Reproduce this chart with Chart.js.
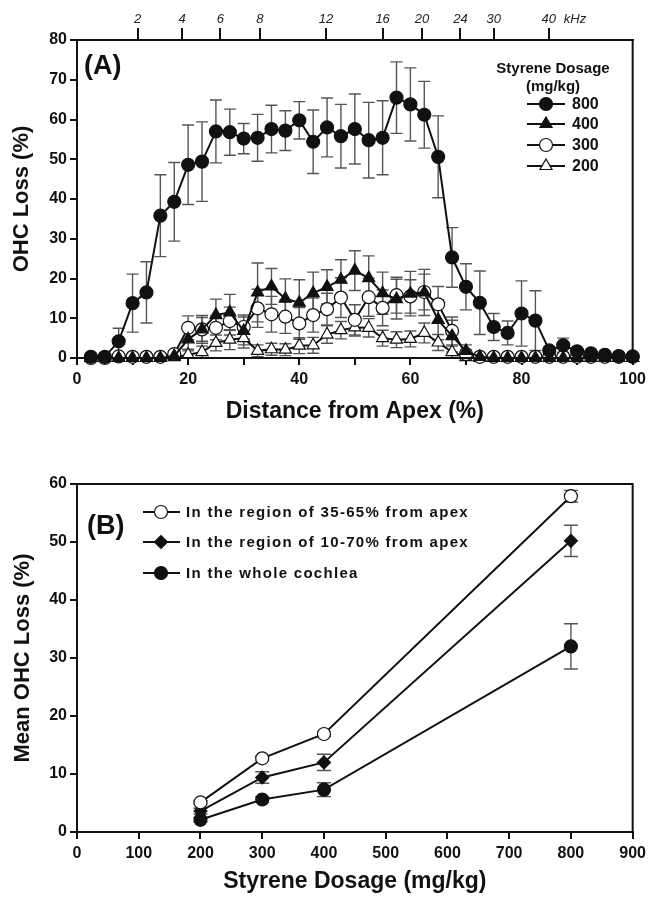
<!DOCTYPE html>
<html>
<head>
<meta charset="utf-8">
<script src="https://cdn.jsdelivr.net/npm/chart.js@4.4.0/dist/chart.umd.min.js"></script>
<style>
  body { margin: 0; background: #fff; }
  #wrap { position: relative; width: 651px; height: 898px; }
  canvas { position: absolute; left: 0; }
</style>
</head>
<body>
<div id="wrap">
  <canvas id="chartA" width="651" height="440" style="top:0"></canvas>
  <canvas id="chartB" width="651" height="458" style="top:440px"></canvas>
</div>
<script>
// ---- panel A data ----
const distance = [2.5, 5, 7.5, 10, 12.5, 15, 17.5, 20, 22.5, 25, 27.5, 30, 32.5, 35, 37.5, 40, 42.5, 45, 47.5, 50,
                  52.5, 55, 57.5, 60, 62.5, 65, 67.5, 70, 72.5, 75, 77.5, 80, 82.5, 85, 87.5, 90, 92.5, 95, 97.5, 100];
const loss800 = [0.3, 0.3, 4.2, 13.8, 16.5, 35.8, 39.3, 48.6, 49.4, 57.0, 56.8, 55.2, 55.4, 57.6, 57.2, 59.8, 54.4, 58.0, 55.8, 57.6,
                 54.8, 55.4, 65.5, 63.8, 61.2, 50.6, 25.3, 17.9, 13.9, 7.8, 6.3, 11.2, 9.4, 1.9, 3.2, 1.7, 1.2, 0.8, 0.5, 0.4];
const err800  = [0, 0, 3.3, 7.3, 7.7, 10.3, 9.9, 10, 10, 7.9, 5.8, 3.8, 5.9, 6, 5, 4.7, 8, 7.4, 8, 8.8,
                 9.5, 9.3, 9, 9.2, 8.4, 10.3, 7.5, 5.8, 8, 3.4, 3, 8.2, 7.5, 0.8, 1.8, 0.8, 0.5, 0.3, 0, 0];
const loss400 = [0, 0, 0, 0, 0, 0, 0.5, 4.7, 7.2, 10.8, 11.5, 6.8, 16.5, 18.0, 14.9, 13.9, 16.3, 17.9, 19.7, 22.0,
                 20.1, 16.3, 14.8, 16.2, 16.5, 9.6, 5.5, 1.8, 0.3, 0, 0, 0, 0, 0, 0, 0, 0, 0, 0, 0];
const err400  = [0, 0, 0, 0, 0, 0, 0.5, 2.5, 3.5, 4, 4.5, 3.5, 7.4, 4.5, 5, 5.8, 5.3, 4.3, 5, 5,
                 5.6, 5.3, 5, 5.6, 5.8, 5, 4, 1.5, 0.5, 0, 0, 0, 0, 0, 0, 0, 0, 0, 0, 0];
const loss300 = [0, 0, 0.4, 0.3, 0.3, 0.3, 1.0, 7.6, 7.2, 7.6, 9.3, 7.8, 12.5, 11.0, 10.4, 8.7, 10.8, 12.3, 15.2, 9.6,
                 15.3, 12.6, 15.8, 15.5, 16.6, 13.5, 6.8, 1.0, 0.3, 0.3, 0.3, 0.3, 0.3, 0.3, 0.3, 0.3, 0.3, 0.3, 0.3, 0.3];
const err300  = [0, 0, 0.3, 0.2, 0.2, 0.3, 0.8, 3, 3, 3, 3.5, 3, 4.8, 4.5, 4.2, 4, 4.3, 4, 5, 3.8,
                 4.8, 4.5, 4.5, 4.2, 4.5, 4.5, 3.5, 1, 0.3, 0, 0, 0, 0, 0, 0, 0, 0, 0, 0, 0];
const loss200 = [0, 0, 0, 0, 0, 0, 0.2, 0.8, 1.5, 3.8, 4.6, 5.0, 1.8, 2.2, 2.1, 3.1, 3.2, 5.9, 7.0, 7.7,
                 7.6, 5.0, 4.6, 4.8, 6.3, 3.9, 1.5, 0.2, 0, 0, 0, 0, 0, 0, 0, 0, 0, 0, 0, 0];
const err200  = [0, 0, 0, 0, 0, 0, 0.3, 1, 1.5, 2, 2.5, 2.5, 1.5, 1.5, 1.5, 2, 2, 2.2, 2.2, 2.2,
                 2.3, 2, 2, 2, 2.5, 2, 1.5, 0.3, 0, 0, 0, 0, 0, 0, 0, 0, 0, 0, 0, 0];
// frequency place map on the top axis
const kHzPos    = [10.9, 18.9, 25.8, 32.9, 44.8, 55.0, 62.1, 69.0, 75.0, 84.9];
const kHzLabels = ['2', '4', '6', '8', '12', '16', '20', '24', '30', '40'];

// ---- panel B data ----
const dosage     = [200, 300, 400, 800];
const mean35to65 = [5.1, 12.7, 16.9, 57.9];
const sem35to65  = [0.3, 0.4, 0.4, 1.0];
const mean10to70 = [3.6, 9.4, 12.0, 50.2];
const sem10to70  = [0.5, 1.0, 1.4, 2.7];
const meanWhole  = [2.1, 5.6, 7.3, 32.0];
const semWhole   = [0.4, 0.5, 1.2, 3.9];

const FONT = '"Liberation Sans", Arial, Helvetica, sans-serif';
const INK = '#111';

function pts(xs, ys) { return xs.map((x, i) => ({ x: x, y: ys[i] })); }

function drawMarker(ctx, style, r, fill, x, y) {
  ctx.save();
  ctx.fillStyle = fill;
  ctx.strokeStyle = INK;
  ctx.lineWidth = 1.2;
  if (Chart.helpers && Chart.helpers.drawPoint) {
    Chart.helpers.drawPoint(ctx, { pointStyle: style, radius: r, rotation: 0, borderWidth: 1.2 }, x, y);
  } else {
    ctx.beginPath(); ctx.arc(x, y, r, 0, Math.PI * 2); ctx.fill(); ctx.stroke();
  }
  ctx.restore();
}

// error bars drawn under the lines and markers
const errorBars = {
  id: 'errorBars',
  beforeDatasetsDraw(chart) {
    const ctx = chart.ctx;
    chart.data.datasets.forEach((ds, i) => {
      if (!ds.errors) return;
      const meta = chart.getDatasetMeta(i);
      const ys = chart.scales[meta.yAxisID];
      ctx.save();
      ctx.strokeStyle = '#555';
      ctx.lineWidth = 1.4;
      meta.data.forEach((pt, j) => {
        const e = ds.errors[j];
        if (!e) return;
        const v = ds.data[j].y;
        const top = ys.getPixelForValue(v + e);
        const bot = ys.getPixelForValue(Math.max(v - e, 0));
        const cw = ds.capWidth || 6;
        ctx.beginPath();
        ctx.moveTo(pt.x, top); ctx.lineTo(pt.x, bot);
        ctx.moveTo(pt.x - cw, top); ctx.lineTo(pt.x + cw, top);
        ctx.moveTo(pt.x - cw, bot); ctx.lineTo(pt.x + cw, bot);
        ctx.stroke();
      });
      ctx.restore();
    });
  }
};

// closed frame around the plot
const frame = {
  id: 'frame',
  afterDatasetsDraw(chart) {
    const a = chart.chartArea, ctx = chart.ctx;
    ctx.save();
    ctx.strokeStyle = INK;
    ctx.lineWidth = 2;
    ctx.strokeRect(a.left, a.top, a.right - a.left, a.bottom - a.top);
    ctx.restore();
  }
};

function lineSet(label, data, errs, style, r, fill) {
  return {
    label: label, data: data, errors: errs,
    borderColor: INK, borderWidth: 2,
    pointStyle: style, pointRadius: r, pointBackgroundColor: fill,
    pointBorderColor: INK, pointBorderWidth: 1.2,
    tension: 0, clip: false
  };
}

// ---- panel A ----
const legendA = {
  id: 'legendA',
  afterDraw(chart) {
    const a = chart.chartArea, ctx = chart.ctx;
    ctx.save();
    ctx.fillStyle = INK;
    ctx.font = 'bold 27px ' + FONT;
    ctx.textBaseline = 'middle';
    ctx.fillText('(A)', a.left + 7, a.top + 27);

    ctx.font = 'bold 15px ' + FONT;
    ctx.textAlign = 'center';
    ctx.fillText('Styrene Dosage', 553, 69);
    ctx.fillText('(mg/kg)', 553, 87);

    ctx.textAlign = 'left';
    ctx.font = 'bold 16px ' + FONT;
    const rows = [104, 124, 145, 166];
    chart.data.datasets.forEach((ds, i) => {
      const y = rows[i];
      ctx.strokeStyle = INK; ctx.lineWidth = 2;
      ctx.beginPath(); ctx.moveTo(527, y); ctx.lineTo(565, y); ctx.stroke();
      drawMarker(ctx, ds.pointStyle, ds.pointRadius, ds.pointBackgroundColor, 546, y);
      ctx.fillStyle = INK;
      ctx.fillText(ds.label, 572, y + 1);
    });

    // unit after the last frequency label
    const x2 = chart.scales.x2;
    ctx.font = 'italic 13px ' + FONT;
    ctx.fillStyle = '#222';
    ctx.textBaseline = 'alphabetic';
    ctx.fillText('kHz', x2.getPixelForValue(kHzPos[kHzPos.length - 1]) + 15, 23);
    ctx.restore();
  }
};

new Chart(document.getElementById('chartA'), {
  type: 'line',
  data: {
    datasets: [
      lineSet('800', pts(distance, loss800), err800, 'circle', 6.5, INK),
      lineSet('400', pts(distance, loss400), err400, 'triangle', 7, INK),
      lineSet('300', pts(distance, loss300), err300, 'circle', 6.5, '#fff'),
      lineSet('200', pts(distance, loss200), err200, 'triangle', 7, '#fff')
    ]
  },
  options: {
    responsive: false,
    animation: false,
    devicePixelRatio: 1,
    layout: { padding: { left: 0, right: 12, top: 0, bottom: 10 } },
    plugins: { legend: { display: false }, tooltip: { enabled: false } },
    scales: {
      x: {
        type: 'linear', position: 'bottom', min: 0, max: 100,
        afterFit: s => { s.height = 72; },
        ticks: {
          stepSize: 10, color: INK, padding: 5, maxRotation: 0,
          font: { family: FONT, size: 16, weight: 'bold' },
          callback: v => (v % 20 === 0 ? v : '')
        },
        grid: { drawOnChartArea: false, color: INK, lineWidth: 2, tickLength: 7 },
        border: { color: INK, width: 2 },
        title: {
          display: true, text: 'Distance from Apex (%)', color: INK,
          font: { family: FONT, size: 23, weight: 'bold' }, padding: { top: 0, bottom: 5 }
        }
      },
      x2: {
        type: 'linear', position: 'top', min: 0, max: 100,
        afterFit: s => { s.height = 40; },
        afterBuildTicks: s => { s.ticks = kHzPos.map(v => ({ value: v })); },
        ticks: {
          color: '#222', padding: 1, maxRotation: 0, autoSkip: false,
          font: { family: FONT, size: 13, style: 'italic' },
          callback: (v, i) => kHzLabels[i]
        },
        grid: { drawOnChartArea: false, color: INK, lineWidth: 2, tickLength: 12 },
        border: { color: INK, width: 2 }
      },
      y: {
        min: 0, max: 80,
        afterFit: s => { s.width = 77; },
        ticks: { stepSize: 10, color: INK, padding: 3, font: { family: FONT, size: 16, weight: 'bold' } },
        grid: { drawOnChartArea: false, color: INK, lineWidth: 2, tickLength: 7 },
        border: { color: INK, width: 2 },
        title: {
          display: true, text: 'OHC Loss (%)', color: INK,
          font: { family: FONT, size: 22, weight: 'bold' }, padding: { top: 9, bottom: 0 }
        }
      }
    }
  },
  plugins: [errorBars, frame, legendA]
});

// ---- panel B ----
const legendB = {
  id: 'legendB',
  afterDraw(chart) {
    const a = chart.chartArea, ctx = chart.ctx;
    ctx.save();
    ctx.fillStyle = INK;
    ctx.font = 'bold 27px ' + FONT;
    ctx.textBaseline = 'middle';
    ctx.fillText('(B)', a.left + 10, a.top + 43);

    ctx.font = 'bold 15px ' + FONT;
    ctx.letterSpacing = '1.3px';
    const rows = [72, 102, 133];
    chart.data.datasets.forEach((ds, i) => {
      const y = rows[i];
      ctx.strokeStyle = INK; ctx.lineWidth = 2;
      ctx.beginPath(); ctx.moveTo(143, y); ctx.lineTo(180, y); ctx.stroke();
      drawMarker(ctx, ds.pointStyle, ds.pointRadius, ds.pointBackgroundColor, 161, y);
      ctx.fillStyle = INK;
      ctx.fillText(ds.label, 186, y + 1);
    });
    ctx.restore();
  }
};

new Chart(document.getElementById('chartB'), {
  type: 'line',
  data: {
    datasets: [
      Object.assign(lineSet('In the region of 35-65% from apex', pts(dosage, mean35to65), sem35to65, 'circle', 6.5, '#fff'), { capWidth: 7 }),
      Object.assign(lineSet('In the region of 10-70% from apex', pts(dosage, mean10to70), sem10to70, 'rectRot', 6.5, INK), { capWidth: 7 }),
      Object.assign(lineSet('In the whole cochlea', pts(dosage, meanWhole), semWhole, 'circle', 6.5, INK), { capWidth: 7 })
    ]
  },
  options: {
    responsive: false,
    animation: false,
    devicePixelRatio: 1,
    layout: { padding: { left: 0, right: 12, top: 44, bottom: 0 } },
    plugins: { legend: { display: false }, tooltip: { enabled: false } },
    scales: {
      x: {
        type: 'linear', position: 'bottom', min: 0, max: 900,
        afterFit: s => { s.height = 66; },
        ticks: { stepSize: 100, color: INK, padding: 5, maxRotation: 0, font: { family: FONT, size: 16, weight: 'bold' } },
        grid: { drawOnChartArea: false, color: INK, lineWidth: 2, tickLength: 7 },
        border: { color: INK, width: 2 },
        title: {
          display: true, text: 'Styrene Dosage (mg/kg)', color: INK,
          font: { family: FONT, size: 23, weight: 'bold' }, padding: { top: 0, bottom: 3 }
        }
      },
      y: {
        min: 0, max: 60,
        afterFit: s => { s.width = 77; },
        ticks: { stepSize: 10, color: INK, padding: 3, font: { family: FONT, size: 16, weight: 'bold' } },
        grid: { drawOnChartArea: false, color: INK, lineWidth: 2, tickLength: 7 },
        border: { color: INK, width: 2 },
        title: {
          display: true, text: 'Mean OHC Loss (%)', color: INK,
          font: { family: FONT, size: 22, weight: 'bold' }, padding: { top: 10, bottom: 0 }
        }
      }
    }
  },
  plugins: [errorBars, frame, legendB]
});
</script>
</body>
</html>
